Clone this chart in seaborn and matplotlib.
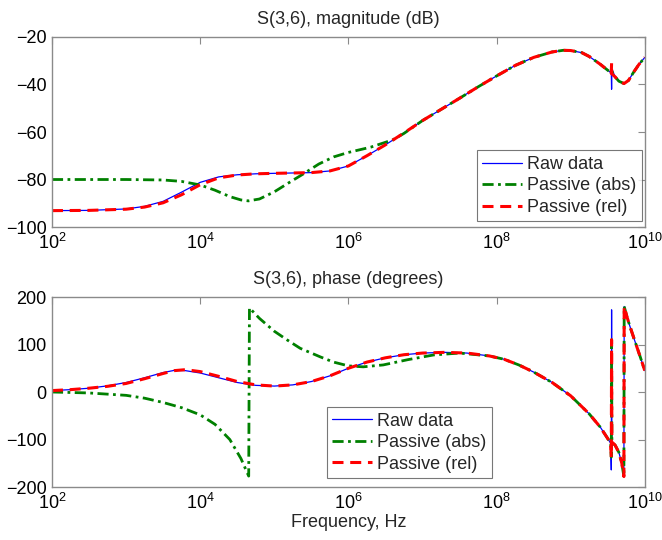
import matplotlib
matplotlib.use("Agg")
import matplotlib.pyplot as plt
from matplotlib.ticker import FixedLocator, NullLocator, FuncFormatter
import numpy as np
import pandas as pd
import seaborn as sns

# ---------------- data ----------------
# magnitude (dB)
logf_mag_raw = [2.0, 2.5, 3.0, 3.25, 3.5, 3.75, 4.0, 4.25, 4.5, 4.75, 5.0, 5.5, 5.75,
                6.0, 6.25, 6.5, 6.75, 7.0, 7.25, 7.5, 7.75, 8.0, 8.25, 8.5, 8.75, 8.9,
                9.0, 9.15, 9.25, 9.4, 9.5, 9.548, 9.552, 9.556, 9.6, 9.65, 9.72, 9.78,
                9.85, 9.92, 10.0]
mag_raw = [-93.1, -93.0, -92.4, -91.3, -89.2, -85.3, -81.2, -78.9, -78.0, -77.6, -77.4,
           -77.1, -76.4, -74.3, -70.0, -65.4, -60.4, -55.2, -50.5, -45.8, -41.0, -36.4,
           -32.0, -28.6, -26.3, -25.6, -25.7, -26.6, -28.2, -31.5, -34.0, -35.2, -42.0,
           -33.5, -36.8, -38.6, -39.6, -38.3, -34.8, -31.6, -28.6]
mag_rel = [-93.1, -93.0, -92.5, -91.6, -89.8, -86.4, -82.2, -79.3, -78.1, -77.6, -77.4,
           -77.1, -76.4, -74.3, -70.0, -65.4, -60.4, -55.2, -50.5, -45.8, -41.0, -36.4,
           -32.0, -28.6, -26.3, -25.6, -25.7, -26.6, -28.2, -31.5, -34.0, -35.2, -31.0,
           -35.5, -36.8, -38.6, -39.6, -38.3, -34.8, -31.6, -28.6]
logf_mag_abs = [2.0, 2.5, 3.0, 3.5, 3.75, 4.0, 4.2, 4.4, 4.55, 4.65, 4.8, 5.0, 5.2, 5.4,
                5.6, 5.8, 6.0, 6.3, 6.6, 6.75, 7.0, 7.25, 7.5, 7.75, 8.0, 8.25, 8.5,
                8.75, 8.9, 9.0, 9.15, 9.25, 9.4, 9.5, 9.548, 9.556, 9.6, 9.65, 9.72,
                9.78, 9.85, 9.92, 10.0]
mag_abs = [-80.0, -80.0, -80.0, -80.2, -80.8, -82.3, -84.5, -87.2, -88.6, -89.0, -88.2,
           -85.2, -81.3, -77.5, -73.5, -70.5, -68.6, -66.4, -63.3, -60.6, -55.2, -50.5,
           -45.8, -41.0, -36.4, -32.0, -28.6, -26.3, -25.6, -25.7, -26.6, -28.2, -31.5,
           -34.0, -35.2, -34.5, -36.8, -38.6, -39.6, -38.3, -34.8, -31.6, -28.6]

# phase (degrees)
logf_ph_raw = [2.0, 2.25, 2.5, 2.75, 3.0, 3.25, 3.5, 3.65, 3.8, 4.0, 4.25, 4.5, 4.75,
               5.0, 5.25, 5.5, 5.75, 6.0, 6.25, 6.5, 6.75, 7.0, 7.3, 7.6, 7.9, 8.1,
               8.3, 8.5, 8.75, 9.0, 9.25, 9.4, 9.5, 9.54, 9.548, 9.552, 9.556, 9.6,
               9.65, 9.69, 9.718, 9.722, 9.76, 9.8, 9.86, 9.93, 10.0]
ph_raw = [3, 5, 8, 13, 20, 30, 41, 45.5, 45, 40, 30, 20, 14, 12.5, 15, 22, 34, 50, 63,
          72, 78.5, 82, 83.5, 82, 76, 69, 57, 42, 20, -8, -46, -74, -98, -108, -164,
          173, -105, -112, -127, -150, -178, 180, 158, 138, 110, 78, 45]
ph_rel = [3, 5, 8, 12, 18, 28, 39, 45, 47, 43, 33, 22, 15, 12.5, 15, 22, 34, 50, 63,
          72, 78.5, 82, 83.5, 82, 76, 69, 57, 42, 20, -8, -46, -74, -98, -108, -137,
          110, -105, -112, -127, -150, -178, 180, 158, 138, 110, 78, 45]
logf_ph_abs = [2.0, 2.5, 3.0, 3.25, 3.5, 3.75, 4.0, 4.2, 4.4, 4.55, 4.655, 4.665, 4.8,
               5.0, 5.17, 5.35, 5.62, 5.8, 6.0, 6.2, 6.47, 6.8, 7.15, 7.5, 7.9, 8.1,
               8.3, 8.5, 8.75, 9.0, 9.25, 9.4, 9.5, 9.54, 9.548, 9.552, 9.556, 9.6,
               9.65, 9.69, 9.718, 9.722, 9.76, 9.8, 9.86, 9.93, 10.0]
ph_abs = [0, -2, -7, -13, -22, -33, -48, -68, -100, -140, -177, 177, 155, 128, 110, 92,
          74, 63, 55, 53, 57, 68, 78, 82, 76, 69, 57, 42, 20, -8, -46, -74, -98, -108,
          -137, 110, -105, -112, -127, -150, -178, 180, 158, 138, 110, 78, 45]

xticks = [1e2, 1e4, 1e6, 1e8, 1e10]
mag_ticks = [-100, -80, -60, -40, -20]
ph_ticks = [-200, -100, 0, 100, 200]
labels = ["Raw data", "Passive (abs)", "Passive (rel)"]
titles = ["S(3,6), magnitude (dB)", "S(3,6), phase (degrees)"]
xlabel = "Frequency, Hz"

# ---------------- style ----------------
sns.set_style("white")
plt.rcParams["font.family"] = ["Liberation Sans", "DejaVu Sans"]
plt.rcParams["mathtext.default"] = "regular"

FS = 13
GREY = "#8a8a8a"

fig = plt.figure(figsize=(6.62, 5.4), dpi=100)
ax1 = fig.add_axes([0.0785, 0.5796, 0.8955, 0.3519])
ax2 = fig.add_axes([0.0785, 0.0981, 0.8955, 0.3519])


def to_f(lf):
    return 10.0 ** np.asarray(lf, dtype=float)


def draw(ax, series, ylim, yticks, title, legend_anchor):
    styles = [
        dict(color="#0000ff", lw=0.9, linestyle="-"),
        dict(color="#008000", lw=2.0, linestyle=(0, (4, 1.6, 1, 1.6))),
        dict(color="#ff0000", lw=2.2, linestyle=(0, (3.6, 2.2))),
    ]
    for (lf, vals), lab, st in zip(series, labels, styles):
        df = pd.DataFrame({"f": to_f(lf), "v": vals})
        sns.lineplot(data=df, x="f", y="v", ax=ax, sort=False, estimator=None,
                     label=lab, **st)
    ax.set_xscale("log")
    ax.set_xlim(1e2, 1e10)
    ax.set_ylim(*ylim)
    ax.xaxis.set_major_locator(FixedLocator(xticks))
    ax.xaxis.set_minor_locator(NullLocator())
    ax.xaxis.set_major_formatter(FuncFormatter(
        lambda x, p: r"$10^{%d}$" % int(round(np.log10(x)))))
    ax.set_yticks(yticks)
    ax.yaxis.set_minor_locator(NullLocator())
    ax.tick_params(direction="in", top=True, right=True, length=5, width=0.8,
                   color=GREY, labelcolor="black", labelsize=FS, pad=4)
    for sp in ax.spines.values():
        sp.set_color(GREY)
        sp.set_linewidth(1.0)
    ax.set_title(title, fontsize=FS, pad=9)
    ax.set_xlabel("")
    ax.set_ylabel("")
    leg = ax.legend(loc="lower right", bbox_to_anchor=legend_anchor, fontsize=FS,
                    frameon=True, fancybox=False, edgecolor="#555555",
                    handlelength=2.2, handletextpad=0.3, labelspacing=0.25,
                    borderpad=0.3, borderaxespad=0.0)
    leg.get_frame().set_linewidth(0.8)


draw(ax1, [(logf_mag_raw, mag_raw), (logf_mag_abs, mag_abs), (logf_mag_raw, mag_rel)],
     (-100, -20), mag_ticks, titles[0], (0.995, 0.03))
draw(ax2, [(logf_ph_raw, ph_raw), (logf_ph_abs, ph_abs), (logf_ph_raw, ph_rel)],
     (-200, 200), ph_ticks, titles[1], (0.742, 0.047))
ax2.set_xlabel(xlabel, fontsize=FS, labelpad=1)

fig.savefig("out.png", dpi=100)
